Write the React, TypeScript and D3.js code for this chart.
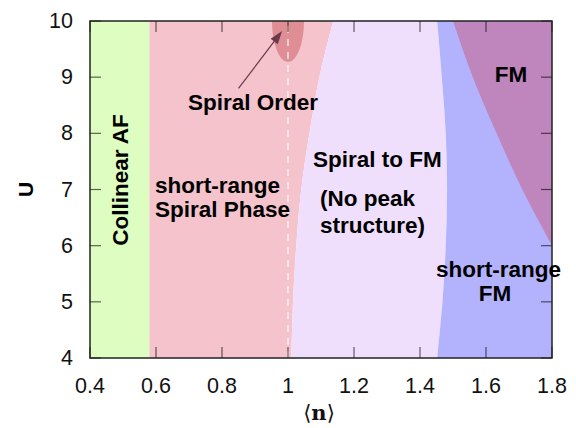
import React from "react";
import * as d3 from "d3";

// ---- data ----
const uLevels = [4, 5, 6, 7, 8, 9, 10];
const collinearEdge = 0.58;
const spiralEdge = [1.01, 1.015, 1.025, 1.04, 1.065, 1.095, 1.137];
const shortFmEdge = [1.452, 1.468, 1.478, 1.482, 1.478, 1.466, 1.452];
const fmLevels = [6, 7, 8, 9, 10];
const fmEdge = [1.8, 1.71, 1.632, 1.56, 1.5];
const spiralOrder = { n: 1.0, u: 10, rn: 0.0485, ru: 0.73 };
const arrowFrom = { n: 0.85, u: 8.8 };
const arrowTo = { n: 0.982, u: 9.82 };
const xTicks = [0.4, 0.6, 0.8, 1.0, 1.2, 1.4, 1.6, 1.8];
const xTickLabels = ["0.4", "0.6", "0.8", "1", "1.2", "1.4", "1.6", "1.8"];
const yTicks = [4, 5, 6, 7, 8, 9, 10];
const yTickLabels = ["4", "5", "6", "7", "8", "9", "10"];

const W = 576, H = 428;
const L = 90, R = 552, T = 21, B = 358;

export default function App() {
  const x = d3.scaleLinear().domain([0.4, 1.8]).range([L, R]);
  const y = d3.scaleLinear().domain([4, 10]).range([B, T]);

  const area = (x0: (i: number) => number, x1: (i: number) => number, us: number[]) =>
    d3
      .area<number>()
      .y((u) => y(u))
      .x0((_, i) => x(x0(i)))
      .x1((_, i) => x(x1(i)))
      .curve(d3.curveMonotoneY)(us) as string;

  const pink = area(() => collinearEdge, (i) => spiralEdge[i], uLevels);
  const lav = area((i) => spiralEdge[i], (i) => shortFmEdge[i], uLevels);
  const blue = area((i) => shortFmEdge[i], () => 1.8, uLevels);
  const fm = area((i) => fmEdge[i], () => 1.8, fmLevels);

  const font = "'Liberation Sans', Arial, Helvetica, sans-serif";
  const tickStroke = { stroke: "#000", strokeOpacity: 0.6, strokeWidth: 1.2 };
  const tl = 11;

  const ax = x(arrowFrom.n), ay = y(arrowFrom.u), bx = x(arrowTo.n), by = y(arrowTo.u);
  const ang = Math.atan2(by - ay, bx - ax);
  const hl = 13, hw = 4.5;
  const hx = bx - hl * Math.cos(ang), hy = by - hl * Math.sin(ang);
  const head = `M${bx},${by}L${hx + hw * Math.sin(ang)},${hy - hw * Math.cos(ang)}L${hx - hw * Math.sin(ang)},${hy + hw * Math.cos(ang)}Z`;

  const bold = { fontFamily: font, fontWeight: 700, fontSize: 22.5, fill: "#000" } as const;

  return (
    <svg width={W} height={H} style={{ position: "absolute", left: 0, top: 0, background: "#fff" }}>
      <defs>
        <clipPath id="plot">
          <rect x={L} y={T} width={R - L} height={B - T} />
        </clipPath>
      </defs>
      <g clipPath="url(#plot)">
        <rect x={x(0.4)} y={T} width={x(collinearEdge) - x(0.4)} height={B - T} fill="#ddfdc1" />
        <path d={pink} fill="#f4c3cc" />
        <path d={lav} fill="#efdffd" />
        <path d={blue} fill="#b3b3fd" />
        <path d={fm} fill="#bf85bd" />
        <ellipse
          cx={x(spiralOrder.n)}
          cy={y(spiralOrder.u)}
          rx={x(spiralOrder.n + spiralOrder.rn) - x(spiralOrder.n)}
          ry={y(spiralOrder.u - spiralOrder.ru) - y(spiralOrder.u)}
          fill="#e08e96"
        />
        <line x1={x(1)} x2={x(1)} y1={B} y2={T} stroke="#fff" strokeOpacity={0.75} strokeWidth={1.5} strokeDasharray="7,6" />
      </g>
      {/* ticks */}
      {xTicks.map((t) => (
        <g key={"xt" + t}>
          <line x1={x(t)} x2={x(t)} y1={B} y2={B - tl} {...tickStroke} />
          <line x1={x(t)} x2={x(t)} y1={T} y2={T + tl} {...tickStroke} />
        </g>
      ))}
      {yTicks.map((t) => (
        <g key={"yt" + t}>
          <line x1={L} x2={L + tl} y1={y(t)} y2={y(t)} {...tickStroke} />
          <line x1={R} x2={R - tl} y1={y(t)} y2={y(t)} {...tickStroke} />
        </g>
      ))}
      <rect x={L} y={T} width={R - L} height={B - T} fill="none" stroke="#222" strokeWidth={1.5} />
      {/* tick labels */}
      {xTicks.map((t, i) => (
        <text key={"xl" + t} x={x(t)} y={393} textAnchor="middle" fontFamily={font} fontSize={21.5} fill="#111">
          {xTickLabels[i]}
        </text>
      ))}
      {yTicks.map((t, i) => (
        <text key={"yl" + t} x={73} y={y(t) + 7} textAnchor="end" fontFamily={font} fontSize={21.5} fill="#111">
          {yTickLabels[i]}
        </text>
      ))}
      {/* axis labels */}
      <text transform={`translate(33,${(T + B) / 2}) rotate(-90)`} textAnchor="middle" {...bold} fontSize={21}>
        U
      </text>
      <text x={(L + R) / 2 - 2} y={420} textAnchor="middle" fontFamily="'DejaVu Serif', serif" fontSize={21} fill="#111">
        ⟨<tspan fontWeight={700}>n</tspan>⟩
      </text>
      {/* arrow */}
      <line x1={ax} y1={ay} x2={hx} y2={hy} stroke="#6e3848" strokeWidth={1.2} />
      <path d={head} fill="#6e3848" />
      {/* region labels */}
      <text x={253} y={110} textAnchor="middle" {...bold}>Spiral Order</text>
      <text transform={`translate(128,180) rotate(-90)`} textAnchor="middle" {...bold}>Collinear AF</text>
      <text x={155} y={193} {...bold}>short-range</text>
      <text x={155} y={217} {...bold}>Spiral Phase</text>
      <text x={313} y={167} {...bold}>Spiral to FM</text>
      <text x={320} y={206} {...bold}>(No peak</text>
      <text x={320} y={233} {...bold}>structure)</text>
      <text x={498.5} y={277} textAnchor="middle" {...bold}>short-range</text>
      <text x={495} y={301} textAnchor="middle" {...bold}>FM</text>
      <text x={511} y={82} textAnchor="middle" {...bold}>FM</text>
    </svg>
  );
}
